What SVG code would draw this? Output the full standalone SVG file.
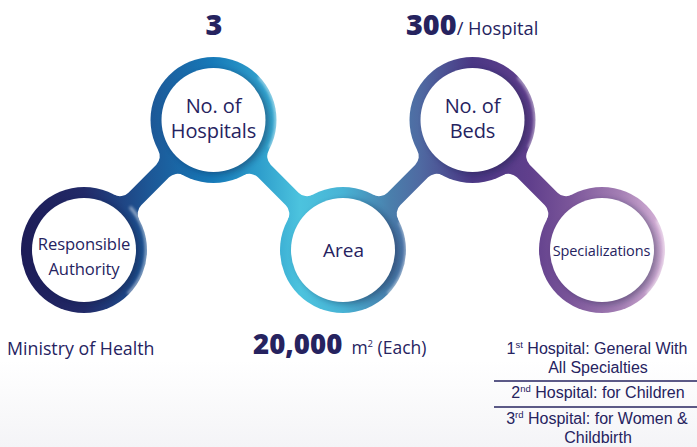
<svg xmlns="http://www.w3.org/2000/svg" width="697" height="447" viewBox="0 0 697 447">
  <defs>
    <!-- one colour sweep shared by every ring and band -->
    <linearGradient id="sweep" gradientUnits="userSpaceOnUse" x1="20" y1="0" x2="666" y2="0">
      <stop offset="0" stop-color="#1d1c57"/>
      <stop offset="0.099" stop-color="#222a68"/>
      <stop offset="0.2" stop-color="#1d5796"/>
      <stop offset="0.297" stop-color="#1679b8"/>
      <stop offset="0.372" stop-color="#2f9fcc"/>
      <stop offset="0.433" stop-color="#4cc3de"/>
      <stop offset="0.5" stop-color="#48b3d5"/>
      <stop offset="0.573" stop-color="#4a7fac"/>
      <stop offset="0.619" stop-color="#4f6aa2"/>
      <stop offset="0.7" stop-color="#4a3784"/>
      <stop offset="0.789" stop-color="#603f8c"/>
      <stop offset="0.851" stop-color="#7a5599"/>
      <stop offset="0.929" stop-color="#a47fb4"/>
      <stop offset="1" stop-color="#dcb8dc"/>
    </linearGradient>
    <linearGradient id="floor" x1="0" y1="0" x2="0" y2="1">
      <stop offset="0" stop-color="#ffffff"/>
      <stop offset="1" stop-color="#f4f4f7"/>
    </linearGradient>
    <filter id="soft" x="-30%" y="-30%" width="160%" height="160%">
      <feGaussianBlur stdDeviation="3"/>
    </filter>
    <filter id="halo" x="-30%" y="-30%" width="160%" height="160%">
      <feGaussianBlur stdDeviation="1.6"/>
    </filter>
  </defs>
  <style>
    .ring { fill: url(#sweep); }
    .band { fill: url(#sweep); }
    .shade { fill: #10123a; opacity: 0.38; filter: url(#soft); }
    .glow { fill: none; stroke: #ffffff; stroke-width: 3; opacity: 0.55; filter: url(#halo); }
    .disc { fill: #ffffff; }
    text { font-family: "Open Sans", "Liberation Sans", sans-serif; fill: #26235f; }
    .lbl { font-size: 20px; text-anchor: middle; letter-spacing: -0.1px; }
    .lbl-s { font-size: 16.6px; text-anchor: middle; letter-spacing: -0.1px; }
    .big { font-size: 28.8px; font-weight: 800; }
    .val { font-size: 17.8px; }
    .spec { font-family: "Liberation Sans", Arial, sans-serif; font-size: 16px; text-anchor: middle; }
    .sup { font-size: 9.5px; }
    .rule { stroke: #26235f; stroke-width: 1.5; }
  </style>

  <rect x="0" y="0" width="697" height="447" fill="#ffffff"/>
  <rect x="0" y="360" width="697" height="87" fill="url(#floor)"/>

  <!-- connectors: filleted bands joining neighbouring rings -->
  <g id="connectors">
    <path class="band" d="M114.186,194.701 A12,12 0 0 0 128.439,192.637 L156.309,164.660 A12,12 0 0 0 158.318,150.400 L213.5,120 L183.314,175.300 A12,12 0 0 0 169.061,177.364 L141.191,205.341 A12,12 0 0 0 139.182,219.601 L84,250 Z"/>
    <path class="band" d="M268.682,150.399 A12,12 0 0 0 270.691,164.659 L298.561,192.636 A12,12 0 0 0 312.814,194.700 L343,250 L287.818,219.600 A12,12 0 0 0 285.809,205.340 L257.939,177.363 A12,12 0 0 0 243.686,175.299 L213.5,120 Z"/>
    <path class="band" d="M373.186,194.701 A12,12 0 0 0 387.439,192.637 L415.309,164.660 A12,12 0 0 0 417.318,150.400 L472.5,120 L442.314,175.300 A12,12 0 0 0 428.061,177.364 L400.191,205.341 A12,12 0 0 0 398.182,219.601 L343,250 Z"/>
    <path class="band" d="M527.682,150.399 A12,12 0 0 0 529.691,164.659 L557.561,192.636 A12,12 0 0 0 571.814,194.700 L602,250 L546.818,219.600 A12,12 0 0 0 544.809,205.340 L516.939,177.363 A12,12 0 0 0 502.686,175.299 L472.5,120 Z"/>
  </g>

  <g id="node-authority">
    <circle class="ring" cx="84" cy="250" r="63"/>
    <path class="glow" d="M130,207 A63,63 0 0 1 128,294"/>
    <circle class="shade" cx="88" cy="252" r="52"/>
    <circle class="disc" cx="84" cy="250" r="52"/>
    <text class="lbl-s" x="84" y="250">Responsible<tspan x="84" dy="25">Authority</tspan></text>
  </g>

  <g id="node-hospitals">
    <circle class="ring" cx="213.5" cy="120" r="63"/>
    <path class="glow" d="M259,77 A63,63 0 0 1 270,148"/>
    <circle class="shade" cx="217.5" cy="122" r="52"/>
    <circle class="disc" cx="213.5" cy="120" r="52"/>
    <text class="lbl" x="213.5" y="113">No. of<tspan x="213.5" dy="25">Hospitals</tspan></text>
  </g>

  <g id="node-area">
    <circle class="ring" cx="343" cy="250" r="63"/>
    <path class="glow" d="M400,222 A63,63 0 0 1 388,294"/>
    <circle class="shade" cx="347" cy="252" r="52"/>
    <circle class="disc" cx="343" cy="250" r="52"/>
    <text class="lbl" x="343.5" y="257" style="font-size:19px;letter-spacing:0">Area</text>
  </g>

  <g id="node-beds">
    <circle class="ring" cx="472.5" cy="120" r="63"/>
    <path class="glow" d="M518,77 A63,63 0 0 1 529,148"/>
    <circle class="shade" cx="476.5" cy="122" r="52"/>
    <circle class="disc" cx="472.5" cy="120" r="52"/>
    <text class="lbl" x="472.5" y="113">No. of<tspan x="472.5" dy="25">Beds</tspan></text>
  </g>

  <g id="node-specializations">
    <circle class="ring" cx="602" cy="250" r="63"/>
    <path class="glow" d="M657,220 A63,63 0 0 1 647,294"/>
    <circle class="shade" cx="606" cy="252" r="52"/>
    <circle class="disc" cx="602" cy="250" r="52"/>
    <text class="lbl-s" x="601.5" y="256" style="font-size:14.5px">Specializations</text>
  </g>

  <!-- figures above and below the rings -->
  <g id="values">
    <text class="big" x="214" y="35" text-anchor="middle">3</text>
    <text x="406" y="35"><tspan class="big">300</tspan><tspan font-size="18.3">/ Hospital</tspan></text>

    <text class="val" x="7" y="355">Ministry of Health</text>

    <text x="253" y="354"><tspan class="big" style="font-size:27.6px">20,000</tspan><tspan font-size="17.5" dx="9">m</tspan><tspan class="sup" dy="-7">2</tspan><tspan font-size="17.5" dy="7"> (Each)</tspan></text>

    <text class="spec" y="354"><tspan x="597">1</tspan><tspan class="sup" dy="-6">st</tspan><tspan dy="6"> Hospital: General With</tspan></text>
    <text class="spec" x="598" y="373">All Specialties</text>
    <line class="rule" x1="494" y1="381" x2="697" y2="381"/>
    <text class="spec" y="398"><tspan x="598">2</tspan><tspan class="sup" dy="-6">nd</tspan><tspan dy="6"> Hospital: for Children</tspan></text>
    <line class="rule" x1="494" y1="407" x2="697" y2="407"/>
    <text class="spec" y="424"><tspan x="597">3</tspan><tspan class="sup" dy="-6">rd</tspan><tspan dy="6"> Hospital: for Women &amp;</tspan></text>
    <text class="spec" x="598" y="443">Childbirth</text>
  </g>
</svg>
